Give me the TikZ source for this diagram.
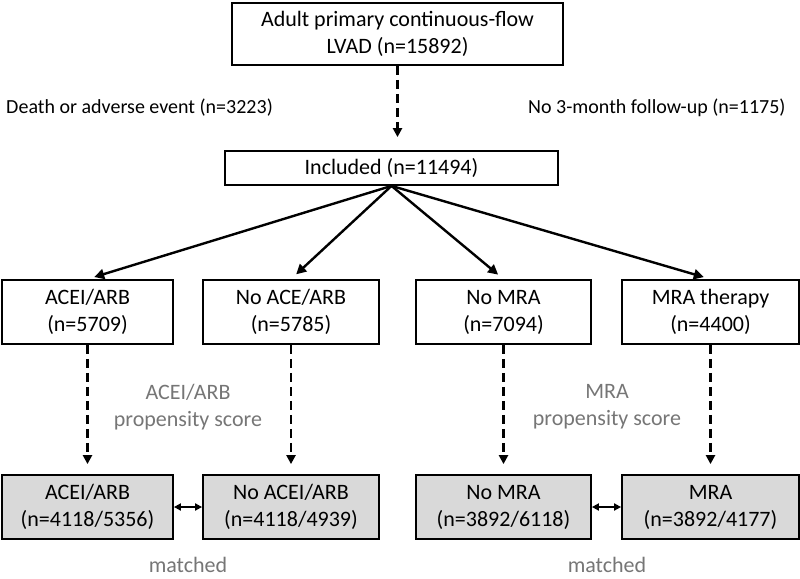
\documentclass[tikz,border=0pt]{standalone}
\usepackage{fontspec}
\setmainfont{Carlito}
\usepackage{xcolor}
\usetikzlibrary{arrows.meta}

\definecolor{matchfill}{RGB}{217,217,217}
\definecolor{notegray}{RGB}{118,118,118}

\tikzset{
  box/.style={draw, line width=1.8pt, align=center, inner sep=0pt, minimum height=64pt},
  matchbox/.style={box, fill=matchfill},
  note/.style={text=notegray, align=center, inner sep=0pt},
  exclusion/.style={inner sep=0pt, font=\fontsize{20}{25}\selectfont},
  fanarrow/.style={line width=2.4pt, -{Triangle[length=10pt,width=10pt]}, shorten >=7pt},
  dasharrow/.style={line width=2.4pt, dash pattern=on 9pt off 5pt, -{Triangle[length=9pt,width=9pt]}},
  pairarrow/.style={line width=2pt, {Triangle[length=7pt,width=7pt]}-{Triangle[length=7pt,width=7pt]}}
}

\begin{document}
\begin{tikzpicture}[x=1pt, y=-1pt, font=\fontsize{22}{27}\selectfont]
    \useasboundingbox (0,0) rectangle (800,578);

    \def\rowb{312} % treatment groups
    \def\rowc{507} % matched groups

    % cohort
    \node[box, minimum width=331pt, minimum height=62pt] (lvad) at (397.5,34) {Adult primary continuous-flow\\LVAD (n=15892)};
    \node[box, minimum width=333pt, minimum height=34pt] (incl) at (391.5,168) {Included (n=11494)};

    \node[exclusion, anchor=east] (death) at (273,108) {Death or adverse event (n=3223)};
    \node[exclusion, anchor=west] (nofollow) at (528,108) {No 3-month follow-up (n=1175)};

    \draw[dasharrow, shorten >=13pt] (lvad.south) -- (lvad.south |- incl.north);

    % treatment groups
    \node[box, minimum width=171pt] (acei) at (87.5,\rowb) {ACEI/ARB\\(n=5709)};
    \node[box, minimum width=176pt] (noace) at (291,\rowb) {No ACE/ARB\\(n=5785)};
    \node[box, minimum width=175pt] (nomra) at (503.5,\rowb) {No MRA\\(n=7094)};
    \node[box, minimum width=177pt] (mra) at (710.5,\rowb) {MRA therapy\\(n=4400)};

    \draw[fanarrow] (incl.south) -- (acei.north);
    \draw[fanarrow] (incl.south) -- (noace.north);
    \draw[fanarrow] (incl.south) -- (nomra.north);
    \draw[fanarrow] (incl.south) -- (mra.north);

    % matched groups
    \node[matchbox, minimum width=171pt] (aceim) at (87.5,\rowc) {ACEI/ARB\\(n=4118/5356)};
    \node[matchbox, minimum width=176pt] (noacem) at (291,\rowc) {No ACEI/ARB\\(n=4118/4939)};
    \node[matchbox, minimum width=175pt] (nomram) at (503.5,\rowc) {No MRA\\(n=3892/6118)};
    \node[matchbox, minimum width=177pt] (mram) at (710.5,\rowc) {MRA\\(n=3892/4177)};

    \draw[dasharrow, shorten >=10pt] (acei) -- (aceim);
    \draw[dasharrow, shorten >=10pt] (noace) -- (noacem);
    \draw[dasharrow, shorten >=10pt] (nomra) -- (nomram);
    \draw[dasharrow, shorten >=10pt] (mra) -- (mram);

    \draw[pairarrow] (aceim) -- (noacem);
    \draw[pairarrow] (nomram) -- (mram);

    \node[note] (aceiscore) at (188,407) {ACEI/ARB\\propensity score};
    \node[note] (mrascore) at (607,407) {MRA\\propensity score};
    \node[note] (aceimatched) at (188,565) {matched};
    \node[note] (mramatched) at (607,565) {matched};
\end{tikzpicture}
\end{document}
